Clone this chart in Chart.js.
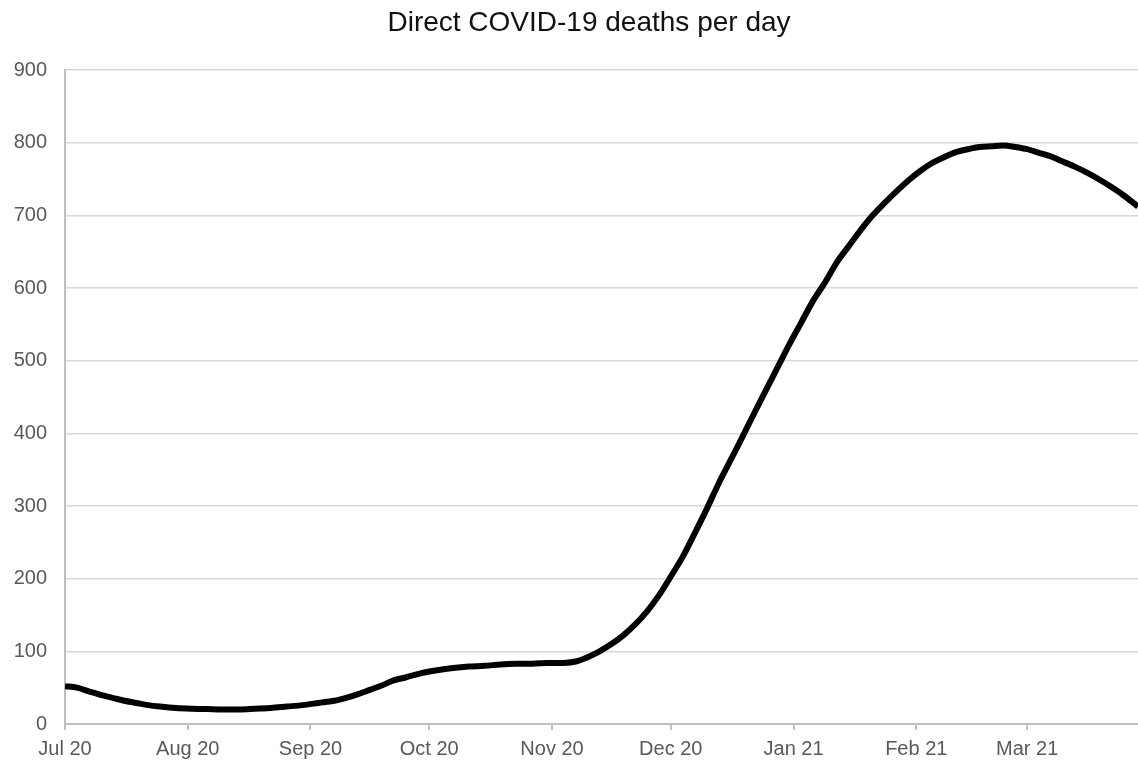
<!DOCTYPE html>
<html>
<head>
<meta charset="utf-8">
<title>Direct COVID-19 deaths per day</title>
<script src="https://cdn.jsdelivr.net/npm/chart.js@4.4.1/dist/chart.umd.min.js"></script>
<style>
html,body{margin:0;padding:0;background:#fff;overflow:hidden;}
#wrap{width:1138px;height:764px;position:relative;}
</style>
</head>
<body>
<div id="wrap"><canvas id="ikc1"></canvas></div>
<script>
// days counted from 1 Jul 2020
var days   = [0,3,6,9,12,15,18,21,24,28,32,36,40,44,48,52,56,60,64,68,71,74,77,80,83,86,90,94,98,102,106,110,114,118,122,126,129,132,135,138,141,144,147,150,153,156,159,162,165,168,171,174,177,180,183,186,189,192,195,198,201,204,207,210,213,216,219,222,225,228,231,234,237,240,243,246,249,252,255,258,261,264,267,271];
var deaths = [52,50,45,40,36,32,29,26,24,22,21,20.5,20,20,21,22,24,26,29,32,36,41,47,53,60,64,70,74,77,79,80,82,83,83,84,84,86,92,100,110,122,137,155,177,203,230,262,295,330,362,394,427,459,491,523,553,583,608,636,658,680,700,717,733,748,761,772,780,787,791,794,795,796,794,791,786,781,774,767,759,750,740,729,712];

var monthDays = [0,31,62,92,123,153,184,215,243];
var monthLbls = ["Jul 20","Aug 20","Sep 20","Oct 20","Nov 20","Dec 20","Jan 21","Feb 21","Mar 21"];
var yTicks = [0,100,200,300,400,500,600,700,800,900];
var chartTitle = 'Direct COVID-19 deaths per day';

var axisGrey = '#bfbfbf';
var gridGrey = '#d9d9d9';
var txtGrey = '#595959';

function build_points(xs,ys){
	var pts=[];
	for(var i=0;i<xs.length;i++){
		pts.push({x:xs[i],y:ys[i]});
	}
	return pts;
}

// title sits a bit left of the plot centre, like the original sheet
var titlePlugin = {
	id: 'sheetTitle',
	afterDraw: function(chart){
		var c = chart.ctx;
		c.save();
		c.fillStyle = '#111';
		c.font = '28px "Liberation Sans"';
		c.textAlign = 'center';
		c.textBaseline = 'middle';
		c.fillText(chartTitle, (chart.width + 40) / 2, 23);
		c.restore();
	}
};

var ctx1 = document.getElementById("ikc1").getContext('2d');
var myChart1 = new Chart(ctx1, {
	type: 'line',
	data: {
		datasets: [{
			label: 'Direct COVID-19 deaths',
			data: build_points(days,deaths),
			borderColor: '#000',
			borderWidth: 6,
			pointRadius: 0,
			tension: 0.3,
			fill: false
		}]
	},
	options: {
		responsive: true,
		maintainAspectRatio: false,
		animation: false,
		layout: { padding: { left: 0, right: 0, top: 70, bottom: 0 } },
		plugins: {
			legend: { display: false },
			tooltip: { enabled: false },
			title: { display: false }
		},
		scales: {
			x: {
				type: 'linear',
				min: 0,
				max: 271,
				afterBuildTicks: function(axis){
					axis.ticks = monthDays.map(function(d){ return {value:d}; });
				},
				afterFit: function(axis){ axis.height = 40; },
				ticks: {
					color: txtGrey,
					font: { family: 'Liberation Sans', size: 20 },
					padding: 7,
					maxRotation: 0,
					autoSkip: false,
					callback: function(v){
						var i = monthDays.indexOf(v);
						return i>=0 ? monthLbls[i] : '';
					}
				},
				grid: { drawOnChartArea: false, drawTicks: true, tickLength: 6, color: axisGrey, lineWidth: 2 },
				border: { display: true, color: axisGrey, width: 2 }
			},
			y: {
				min: 0,
				max: 900,
				afterBuildTicks: function(axis){
					axis.ticks = yTicks.map(function(v){ return {value:v}; });
				},
				afterFit: function(axis){ axis.width = 65; },
				ticks: {
					color: txtGrey,
					font: { family: 'Liberation Sans', size: 20 },
					padding: 18
				},
				grid: { drawTicks: false, color: gridGrey, lineWidth: 1.5 },
				border: { display: true, color: axisGrey, width: 2 }
			}
		}
	},
	plugins: [titlePlugin]
});
</script>
</body>
</html>
